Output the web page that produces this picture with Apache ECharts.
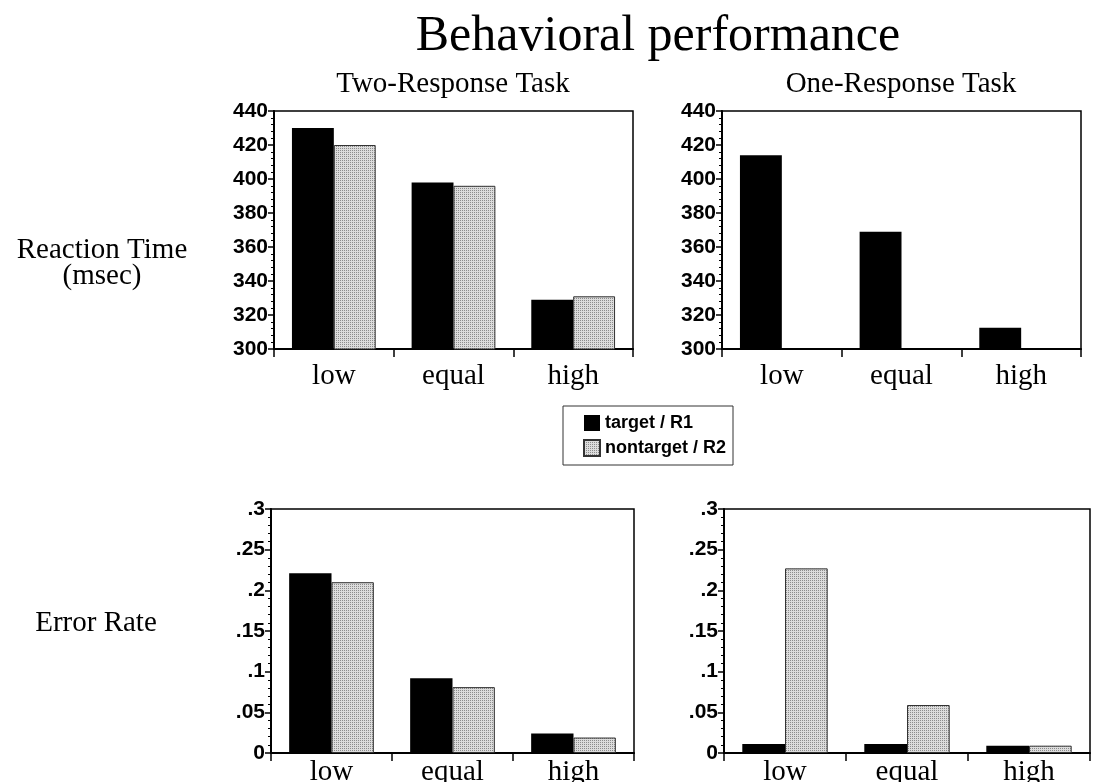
<!DOCTYPE html>
<html><head><meta charset="utf-8">
<script src="https://cdn.jsdelivr.net/npm/echarts@6/dist/echarts.min.js"></script>
<style>html,body{margin:0;padding:0;background:#fff}#c{width:1093px;height:782px}</style>
</head><body><div id="c"></div>
<script>
const categories = ['low', 'equal', 'high'];
const seriesNames = ['target / R1', 'nontarget / R2'];
const panelTitles = ['Two-Response Task', 'One-Response Task'];
const rowTitles = ['Reaction Time', '(msec)', 'Error Rate'];
const mainTitle = 'Behavioral performance';

const rtTwoTarget = [430, 398, 329];
const rtTwoNontarget = [420, 396, 331];
const rtOneTarget = [414, 369, 312.5];
const rtOneNontarget = [null, null, null];
const errTwoTarget = [0.221, 0.092, 0.024];
const errTwoNontarget = [0.210, 0.081, 0.019];
const errOneTarget = [0.011, 0.011, 0.009];
const errOneNontarget = [0.227, 0.059, 0.009];

// stipple pattern for the gray bars
const pat = document.createElement('canvas');
pat.width = 2; pat.height = 2;
const pc = pat.getContext('2d');
pc.fillStyle = '#dcdcdc'; pc.fillRect(0, 0, 2, 2);
pc.fillStyle = '#8c8c8c'; pc.fillRect(0, 0, 1, 1);

const serif = '"Liberation Serif", "Times New Roman", serif';
const sans = '"Liberation Sans", Arial, sans-serif';

const grids = [
  {left: 274, top: 111, width: 359, height: 238},
  {left: 722, top: 111, width: 359, height: 238},
  {left: 271, top: 509, width: 363, height: 244},
  {left: 724, top: 509, width: 366, height: 244}
].map(g => Object.assign({show: true, borderColor: '#000', borderWidth: 1.5,
  backgroundColor: 'transparent', containLabel: false, outerBoundsMode: 'none'}, g));

const xAxes = [0, 1, 2, 3].map(i => ({
  type: 'category', gridIndex: i, data: categories,
  axisLine: {onZero: false, lineStyle: {color: '#000', width: 2}},
  axisTick: {show: true, length: 8, lineStyle: {color: '#000', width: 1.5}},
  axisLabel: {color: '#000', fontFamily: serif, fontSize: 29, margin: i < 2 ? 13 : 5}
}));

function errFmt(v) {
  const r = Number(v.toFixed(2));
  return r === 0 ? '0' : String(r).replace(/^0/, '');
}
const yAxes = [0, 1, 2, 3].map(i => ({
  type: 'value', gridIndex: i,
  min: i < 2 ? 300 : 0, max: i < 2 ? 440 : 0.3, interval: i < 2 ? 20 : 0.05,
  axisLine: {show: true, lineStyle: {color: '#000', width: 2}},
  axisTick: {show: true, length: 6, lineStyle: {color: '#000', width: 1.5}},
  minorTick: {show: true, splitNumber: 5, length: 3, lineStyle: {color: '#000', width: 1}},
  splitLine: {show: false},
  axisLabel: {color: '#000', fontFamily: sans, fontWeight: 'bold', fontSize: 21, margin: 6,
    formatter: i < 2 ? (v => String(v)) : errFmt}
}));

const blackStyle = {color: '#000'};
const grayStyle = {color: {image: pat, repeat: 'repeat'}, borderColor: '#333', borderWidth: 1};
const dataSets = [
  [rtTwoTarget, rtTwoNontarget],
  [rtOneTarget, rtOneNontarget],
  [errTwoTarget, errTwoNontarget],
  [errOneTarget, errOneNontarget]
];
const series = [];
dataSets.forEach((pair, i) => {
  pair.forEach((d, k) => {
    series.push({
      type: 'bar', name: seriesNames[k], xAxisIndex: i, yAxisIndex: i, data: d,
      barGap: '0%', barCategoryGap: '30%',
      itemStyle: k === 0 ? blackStyle : grayStyle,
      emphasis: {disabled: true}
    });
  });
});

function txt(text, x, y, size) {
  return {type: 'text', x: x, y: y, silent: true,
    style: {text: text, font: 'normal ' + size + 'px ' + serif, fill: '#000',
      align: 'center', verticalAlign: 'middle', textAlign: 'center', textVerticalAlign: 'middle'}};
}

const chart = echarts.init(document.getElementById('c'));
chart.setOption({
  animation: false,
  backgroundColor: '#fff',
  grid: grids,
  xAxis: xAxes,
  yAxis: yAxes,
  series: series,
  legend: {
    data: seriesNames, orient: 'vertical', left: 563, top: 406,
    padding: [8, 7, 8, 20], itemGap: 7, itemWidth: 16, itemHeight: 16,
    borderColor: '#333', borderWidth: 1, selectedMode: false, icon: 'rect',
    textStyle: {fontFamily: sans, fontWeight: 'bold', fontSize: 18, color: '#000'}
  },
  graphic: [
    txt(mainTitle, 658, 37, 50),
    txt(panelTitles[0], 453, 84, 29),
    txt(panelTitles[1], 901, 84, 29),
    txt(rowTitles[0], 102, 250, 29),
    txt(rowTitles[1], 102, 276, 29),
    txt(rowTitles[2], 96, 623, 29)
  ]
});
</script></body></html>
